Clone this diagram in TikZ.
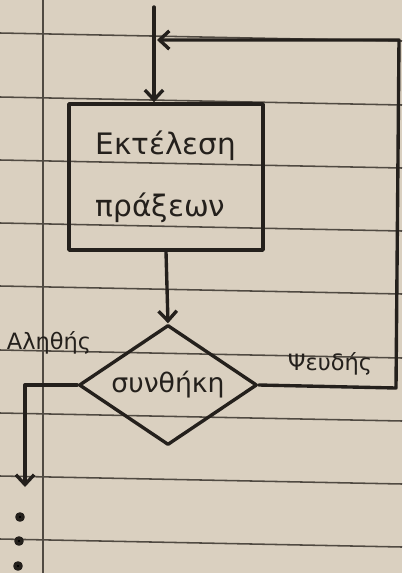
\documentclass[tikz,border=0pt]{standalone}
\usepackage{fontspec}
\setmainfont{DejaVu Sans}
\usetikzlibrary{shapes.geometric, arrows.meta}
\definecolor{paper}{RGB}{218,208,192}
\definecolor{ruled}{RGB}{80,74,66}
\definecolor{ink}{RGB}{36,32,28}

\begin{document}
\begin{tikzpicture}[x=0.025cm, y=-0.025cm,
    ink/.style={draw=ink, line width=2.4pt, line cap=round, line join=round},
    flow/.style={ink, -{Straight Barb[length=7pt, width=13pt]}},
    ruling/.style={draw=ruled, line width=1.1pt},
    label/.style={text=ink, font=\fontsize{16}{18}\selectfont}]

    % Paper
    \fill[paper] (0,0) rectangle (402,573);
    \useasboundingbox (0,0) rectangle (402,573);
    \foreach \y in {33,97,160,223,286,350,413,476,539}
        \draw[ruling] (0,\y) -- (402,\y+8);
    \draw[ruling, line width=1.8pt] (43,0) -- (43,573);

    % Process and condition
    \node[ink, rectangle, minimum width=4.85cm, minimum height=3.65cm, align=left,
          text=ink, font=\fontsize{21}{44}\selectfont] (work) at (166,177)
          {\raisebox{-4pt}{Εκτέλεση}\\[-2pt]\raisebox{-6pt}{πράξεων}};
    \node[ink, diamond, shape aspect=1.5, inner sep=0pt, minimum width=4.45cm,
          minimum height=3cm, text=ink, font=\fontsize{19}{21}\selectfont] (cond) at (168,385)
          {\raisebox{-3pt}{συνθήκη}};

    % Entry
    \coordinate (entry) at (154,7);
    \draw[flow] (entry) -- (entry |- work.north);
    \draw[flow] (work.south) -- (cond.north);

    % False: back to the start
    \coordinate (falseB) at (396,388);
    \coordinate (falseT) at (399,40);
    \coordinate (merge) at (157,40);
    \draw[flow] (cond.east) -- (falseB) -- (falseT) -- (merge);
    \node[label] (false) at (330,364) {Ψευδής};

    % True: leave the loop
    \coordinate (exit) at (25,487);
    \draw[flow] (cond.west) -| (exit);
    \node[label] (true) at (49,343) {Αληθής};

    \foreach \x/\y in {20/517, 19/541, 18/566}
        \fill[ink] (\x,\y) circle (2.2pt);
\end{tikzpicture}
\end{document}
